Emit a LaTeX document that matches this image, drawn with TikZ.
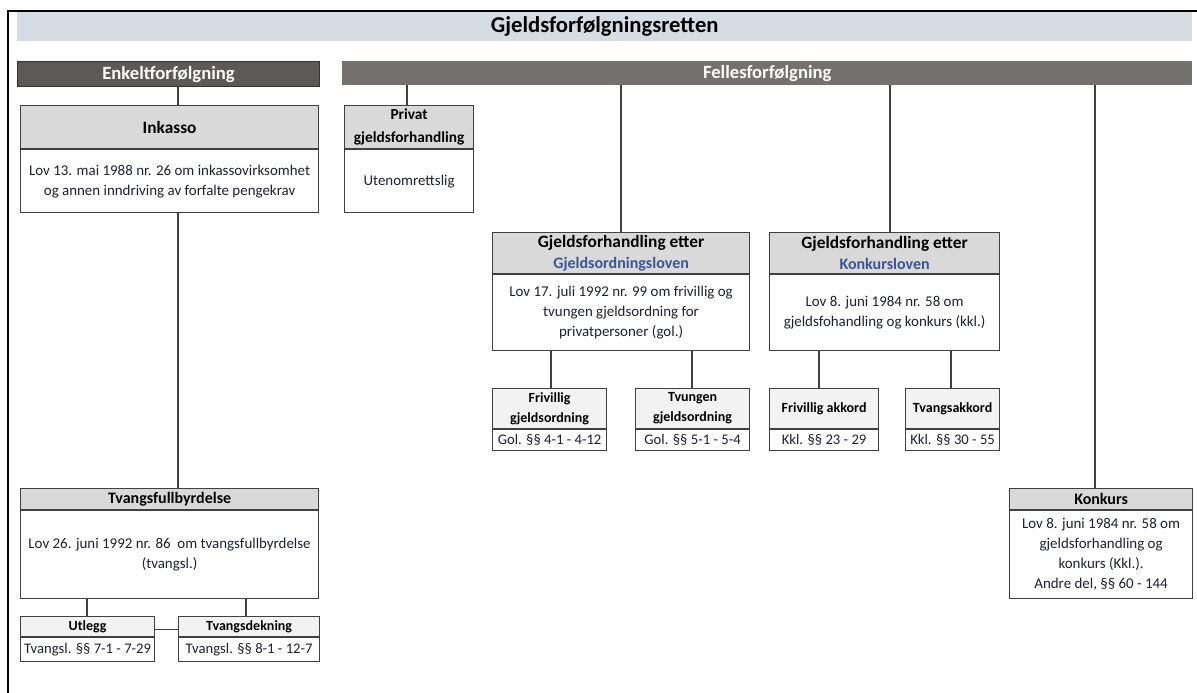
\documentclass[tikz,border=0pt]{standalone}
\usepackage{fontspec}
\setmainfont{Carlito}
\usepackage{xcolor}
\usetikzlibrary{positioning}
\definecolor{titlefill}{RGB}{214,220,228}
\definecolor{enkfill}{RGB}{94,89,89}
\definecolor{felfill}{RGB}{118,113,113}
\definecolor{headfill}{RGB}{217,217,217}
\definecolor{subfill}{RGB}{242,242,242}
\definecolor{bodytext}{RGB}{32,32,52}
\definecolor{lawblue}{RGB}{59,86,150}
\newcommand{\pxu}{0.75pt}

\begin{document}
\begin{tikzpicture}[x=0.75pt,y=-0.75pt,line cap=rect,
  bar/.style={inner sep=0pt,anchor=north west,text=white,font=\fontsize{14}{16}\selectfont\bfseries},
  hd/.style={draw=black!75,line width=0.9pt,fill=headfill,inner sep=0pt,anchor=north west,align=center,font=\fontsize{12}{16}\selectfont\bfseries},
  bd/.style={draw=black!75,line width=0.9pt,fill=white,inner sep=0pt,anchor=north,align=center,text=bodytext,font=\fontsize{11.2}{15}\selectfont},
  subhd/.style={hd,fill=subfill,font=\fontsize{10.5}{15}\selectfont\bfseries},
  subbd/.style={bd,font=\fontsize{11}{13}\selectfont},
  con/.style={draw=black!75,line width=0.9pt}]
\useasboundingbox (0,0) rectangle (1197,693);
\draw[line width=1.1pt] (8,693) -- (8,11) -- (1197,11);
% bars
\node[bar,fill=titlefill,text=black,font=\fontsize{17}{19}\selectfont\bfseries,minimum width=1175*\pxu,minimum height=29*\pxu] (title) at (17,12) {Gjeldsforfølgningsretten};
\node[bar,fill=enkfill,draw=black!80,line width=0.8pt,minimum width=302*\pxu,minimum height=25*\pxu] (enkelt) at (17,61) {Enkeltforfølgning};
\node[bar,fill=felfill,minimum width=850*\pxu,minimum height=24*\pxu] (felles) at (342,61) {Fellesforfølgning};
% enkeltforfolgning
\node[hd,font=\fontsize{13}{16}\selectfont\bfseries,minimum width=298*\pxu,minimum height=43*\pxu] (inkh) at (20,105) {Inkasso};
\node[bd,minimum width=298*\pxu,minimum height=63*\pxu] (inkb) at (inkh.south) {Lov 13. mai 1988 nr. 26 om inkassovirksomhet\\og annen inndriving av forfalte pengekrav};
\node[hd,minimum width=298*\pxu,minimum height=21*\pxu] (tvfh) at (20,488) {Tvangsfullbyrdelse};
\node[bd,minimum width=298*\pxu,minimum height=88*\pxu] (tvfb) at (tvfh.south) {Lov 26. juni 1992 nr. 86 \ om tvangsfullbyrdelse\\(tvangsl.)};
\node[subhd,minimum width=134*\pxu,minimum height=20*\pxu] (utlh) at (20,616) {Utlegg};
\node[subbd,minimum width=134*\pxu,minimum height=24*\pxu] (utlb) at (utlh.south) {Tvangsl. §§ 7-1 - 7-29};
\node[subhd,minimum width=141*\pxu,minimum height=20*\pxu] (tvdh) at (178,616) {Tvangsdekning};
\node[subbd,minimum width=141*\pxu,minimum height=24*\pxu] (tvdb) at (tvdh.south) {Tvangsl. §§ 8-1 - 12-7};
% fellesforfolgning
\node[hd,font=\fontsize{11.5}{17}\selectfont\bfseries,minimum width=129*\pxu,minimum height=43*\pxu] (prih) at (344,105) {Privat\\gjeldsforhandling};
\node[bd,minimum width=129*\pxu,minimum height=63*\pxu] (prib) at (prih.south) {Utenomrettslig};
\node[hd,minimum width=257*\pxu,minimum height=41*\pxu] (golh) at (492,232) {{\fontsize{13}{16}\selectfont Gjeldsforhandling etter}\\\textcolor{lawblue}{Gjeldsordningsloven}};
\node[bd,minimum width=257*\pxu,minimum height=76*\pxu] (golb) at (golh.south) {Lov 17. juli 1992 nr. 99 om frivillig og\\tvungen gjeldsordning for\\privatpersoner (gol.)};
\node[hd,minimum width=230*\pxu,minimum height=41*\pxu] (kklh) at (769,232) {{\fontsize{13}{16}\selectfont Gjeldsforhandling etter}\\\textcolor{lawblue}{Konkursloven}};
\node[bd,minimum width=230*\pxu,minimum height=76*\pxu] (kklb) at (kklh.south) {Lov 8. juni 1984 nr. 58 om\\gjeldsfohandling og konkurs (kkl.)};
\node[subhd,minimum width=114*\pxu,minimum height=40*\pxu] (fgoh) at (492,388) {Frivillig\\gjeldsordning};
\node[subbd,minimum width=114*\pxu,minimum height=21*\pxu] (fgob) at (fgoh.south) {Gol. §§ 4-1 - 4-12};
\node[subhd,minimum width=114*\pxu,minimum height=40*\pxu] (tgoh) at (635,388) {Tvungen\\gjeldsordning};
\node[subbd,minimum width=114*\pxu,minimum height=21*\pxu] (tgob) at (tgoh.south) {Gol. §§ 5-1 - 5-4};
\node[subhd,minimum width=109*\pxu,minimum height=40*\pxu] (fakh) at (769,388) {Frivillig akkord};
\node[subbd,minimum width=109*\pxu,minimum height=21*\pxu] (fakb) at (fakh.south) {Kkl. §§ 23 - 29};
\node[subhd,minimum width=94*\pxu,minimum height=40*\pxu] (takh) at (905,388) {Tvangsakkord};
\node[subbd,minimum width=94*\pxu,minimum height=21*\pxu] (takb) at (takh.south) {Kkl. §§ 30 - 55};
\node[hd,minimum width=183*\pxu,minimum height=21*\pxu] (konh) at (1009,488) {Konkurs};
\node[bd,minimum width=183*\pxu,minimum height=88*\pxu] (konb) at (konh.south) {Lov 8. juni 1984 nr. 58 om\\gjeldsforhandling og\\konkurs (Kkl.).\\Andre del, §§ 60 - 144};
% connectors
\draw[con] (enkelt.south -| 178,0) -- (inkh.north -| 178,0);
\draw[con] (inkb.south -| 178,0) -- (tvfh.north -| 178,0);
\draw[con] (tvfb.south -| 87,0) -- (utlh.north -| 87,0);
\draw[con] (tvfb.south -| 246,0) -- (tvdh.north -| 246,0);
\draw[con] ([yshift=-2pt]utlh.east) -- ([yshift=-2pt]tvdh.west);
\draw[con] (felles.south -| 407,0) -- (prih.north -| 407,0);
\draw[con] (felles.south -| 621,0) -- (golh.north -| 621,0);
\draw[con] (felles.south -| 890,0) -- (kklh.north -| 890,0);
\draw[con] (felles.south -| 1095,0) -- (konh.north -| 1095,0);
\draw[con] (golb.south -| 551,0) -- (fgoh.north -| 551,0);
\draw[con] (golb.south -| 692,0) -- (tgoh.north -| 692,0);
\draw[con] (kklb.south -| 819,0) -- (fakh.north -| 819,0);
\draw[con] (kklb.south -| 951,0) -- (takh.north -| 951,0);
\end{tikzpicture}
\end{document}
